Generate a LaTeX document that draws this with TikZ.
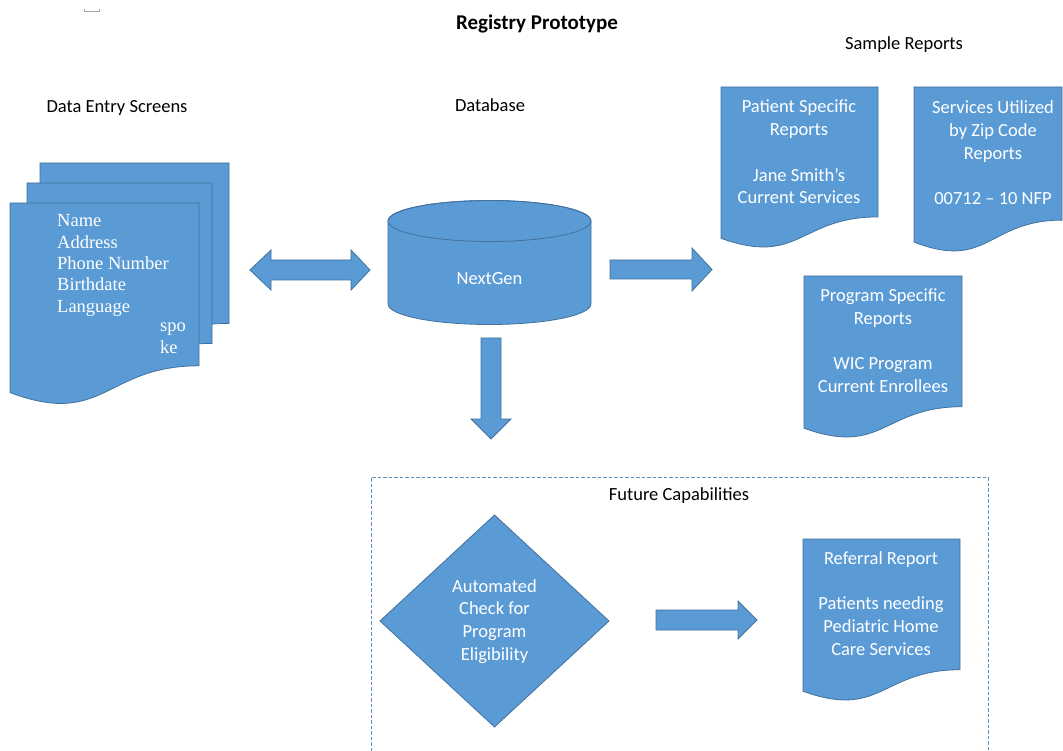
\documentclass[tikz,border=0pt]{standalone}
\usepackage{fontspec}
\setmainfont{Carlito}
\newfontfamily\tnr{Liberation Serif}
\definecolor{ofill}{HTML}{5B9BD5}
\definecolor{oline}{HTML}{41719C}
\definecolor{dashc}{HTML}{5B8FC0}
\tikzset{
  shapefill/.style={fill=ofill, draw=oline, line width=0.8pt},
  wtext/.style={text=white, align=center, font=\fontsize{18.5}{22.7}\selectfont, inner sep=0pt, yshift=-1.5pt},
  ktext/.style={text=black, align=center, font=\fontsize{18.5}{22.7}\selectfont, inner sep=0pt, yshift=-1.5pt},
  entrytext/.style={text=white, align=left, font=\tnr\fontsize{18.5}{21.3}\selectfont, inner sep=0pt},
}
% document shape: name, x, y, w, h
\newcommand{\docshp}[5]{%
  \path[shapefill] (#2,#3) -- ({#2+#4},#3) -- ({#2+#4},{#3+0.802*#5})
    .. controls ({#2+0.5*#4},{#3+0.802*#5}) and ({#2+0.5*#4},{#3+1.108*#5}) .. (#2,{#3+0.934*#5}) -- cycle;
  \coordinate (#1) at ({#2+0.5*#4},{#3+0.45*#5});}
\begin{document}
\begin{tikzpicture}[x=1pt,y=-1pt]
\useasboundingbox (0,0) rectangle (1063,751);
\fill[white] (0,0) rectangle (1063,751);

% small mark
\draw[gray!70, line width=0.8pt] (84,9.5) -- (84,11) -- (99,11) -- (99,9.5);

% headings
\node[ktext, font=\bfseries\fontsize{21}{25}\selectfont] (title) at (537,22) {Registry Prototype};
\node[ktext] (hsample) at (904,43) {Sample Reports};
\node[ktext] (hentry) at (117,106) {Data Entry Screens};
\node[ktext] (hdb) at (490,104) {Database};

% data entry pages
\docshp{pg3}{40}{163}{189}{200}
\docshp{pg2}{27}{183}{185}{200}
\docshp{pg1}{10}{203}{189}{203}
\node[entrytext, anchor=north west] (fields) at (57,214.5) {Name\\Address\\Phone Number\\Birthdate\\Language};
\node[entrytext, anchor=base west] (spo) at (160,332) {spo};
\node[entrytext, anchor=base west] (ke) at (160,353) {ke};

% database cylinder
\path[shapefill] (388,221) -- (388,304)
  arc[start angle=180, end angle=360, x radius=101.5pt, y radius=20.5pt] -- (591,221)
  arc[start angle=0, end angle=180, x radius=101.5pt, y radius=20.5pt] -- cycle;
\draw[oline, line width=0.8pt] (489.5,221) ellipse [x radius=101.5pt, y radius=20.5pt];
\node[wtext] (db) at (489.5,277) {NextGen};

% block arrows
\path[shapefill] (250,270) -- (271,250) -- (271,260) -- (351,260) -- (351,250) -- (370,270)
  -- (351,290) -- (351,280) -- (271,280) -- (271,290) -- cycle;
\path[shapefill] (610,260) -- (692,260) -- (692,248) -- (712,269.5) -- (692,291) -- (692,279) -- (610,279) -- cycle;
\path[shapefill] (481,338) -- (501,338) -- (501,419) -- (511,419) -- (491,439) -- (471,419) -- (481,419) -- cycle;

% reports
\docshp{rpat}{721}{87}{157}{162}
\node[wtext] (tpat) at (799,150.5) {Patient Specific\\Reports\\[22.7pt]Jane Smith’s\\Current Services};
\docshp{rsvc}{914}{87}{148}{166}
\node[wtext] (tsvc) at (993,151.5) {Services Utilized\\by Zip Code\\Reports\\[22.7pt]00712 – 10 NFP};
\docshp{rprog}{804}{276}{158}{163}
\node[wtext] (tprog) at (883,339) {Program Specific\\Reports\\[22.7pt]WIC Program\\Current Enrollees};

% future capabilities
\draw[dashc, line width=0.9pt, dash pattern=on 3.5pt off 2pt] (371,751) -- (371,477) -- (988,477) -- (988,751);
\node[ktext] (hfuture) at (679,494) {Future Capabilities};
\path[shapefill] (494.5,515) -- (609,621) -- (494.5,727) -- (380,621) -- cycle;
\node[wtext] (auto) at (494.5,620) {Automated\\Check for\\Program\\Eligibility};
\path[shapefill] (656,610) -- (738,610) -- (738,601) -- (757,620) -- (738,639) -- (738,630) -- (656,630) -- cycle;
\docshp{rref}{803}{539}{157}{163}
\node[wtext] (tref) at (881,602) {Referral Report\\[22.7pt]Patients needing\\Pediatric Home\\Care Services};
\end{tikzpicture}
\end{document}
